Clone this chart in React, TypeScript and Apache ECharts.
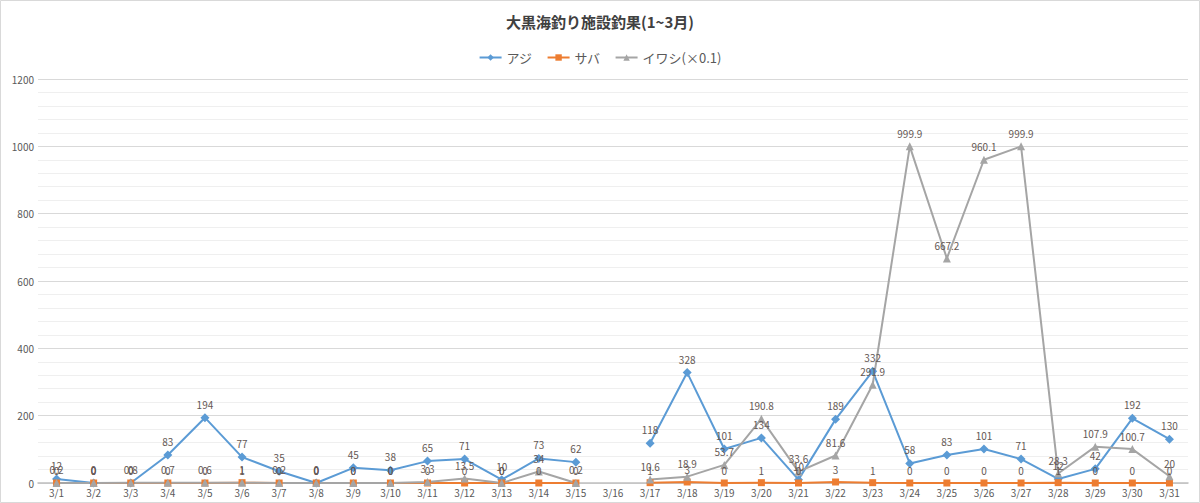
import { useEffect, useRef } from "react";
import * as echarts from "echarts";

const days = [
  "3/1", "3/2", "3/3", "3/4", "3/5", "3/6", "3/7", "3/8", "3/9", "3/10",
  "3/11", "3/12", "3/13", "3/14", "3/15", "3/16", "3/17", "3/18", "3/19", "3/20",
  "3/21", "3/22", "3/23", "3/24", "3/25", "3/26", "3/27", "3/28", "3/29", "3/30",
  "3/31",
];

// アジ
const aji = [
  12, 0, 0, 83, 194, 77, 35, 0, 45, 38,
  65, 71, 10, 73, 62, null, 118, 328, 101, 134,
  10, 189, 332, 58, 83, 101, 71, 12, 42, 192,
  130,
];

// サバ
const saba = [
  0, 0, 0, 0, 0, 1, 0, 0, 0, 0,
  0, 0, 0, 0, 0, null, 1, 3, 0, 1,
  0, 3, 1, 0, 0, 0, 0, 1, 0, 0,
  0,
];

// イワシ (x0.1)
const iwashi = [
  0.2, 0, 0.8, 0.7, 0.6, 1, 0.2, 0, 0, 0,
  3.3, 13.5, 0, 34, 0.2, null, 10.6, 18.9, 53.7, 190.8,
  33.6, 81.6, 291.9, 999.9, 667.2, 960.1, 999.9, 28.3, 107.9, 100.7,
  20,
];

const FONT = '"Noto Sans CJK JP", "Noto Sans", sans-serif';
const labelStyle = {
  show: true,
  position: "top" as const,
  distance: 4,
  color: "#645854",
  fontSize: 10,
  fontFamily: FONT,
};

export default function App() {
  const chartRef = useRef<HTMLDivElement>(null);

  useEffect(() => {
    document.body.style.margin = "0";
    const chart = echarts.init(chartRef.current, undefined, { renderer: "svg" });

    chart.setOption({
      animation: false,
      backgroundColor: "#ffffff",
      textStyle: { fontFamily: FONT },
      title: {
        text: "大黒海釣り施設釣果(1~3月)",
        left: "center",
        top: 9,
        textStyle: {
          fontSize: 15,
          fontWeight: "bold",
          color: "#404040",
          fontFamily: FONT,
        },
      },
      legend: {
        top: 46,
        left: "center",
        itemWidth: 22,
        itemHeight: 8,
        itemGap: 14,
        textStyle: { fontSize: 13, color: "#595959", fontFamily: FONT },
        data: ["アジ", "サバ", "イワシ(×0.1)"],
      },
      graphic: [
        {
          type: "rect",
          shape: { x: 0.5, y: 0.5, width: 1199, height: 502 },
          style: { fill: "none", stroke: "#d9d9d9", lineWidth: 1 },
          silent: true,
        },
      ],
      grid: { left: 38, right: 12, top: 79, bottom: 20 },
      xAxis: {
        type: "category",
        data: days,
        boundaryGap: true,
        axisLine: { lineStyle: { color: "#bfbfbf", width: 1.5 } },
        axisTick: { show: false },
        axisLabel: {
          color: "#595959",
          fontSize: 10,
          margin: 4,
          interval: 0,
          fontFamily: FONT,
        },
      },
      yAxis: {
        type: "value",
        min: 0,
        max: 1200,
        interval: 200,
        axisLine: { show: false },
        axisTick: { show: false },
        axisLabel: {
          color: "#595959",
          fontSize: 10,
          margin: 4,
          fontFamily: FONT,
          formatter: (v: number) => String(v),
        },
        splitLine: { lineStyle: { color: "#d9d9d9", width: 1 } },
        minorTick: { show: false, splitNumber: 5 },
        minorSplitLine: { show: true, lineStyle: { color: "#efefef", width: 1 } },
      },
      series: [
        {
          name: "アジ",
          type: "line",
          data: aji,
          symbol: "diamond",
          symbolSize: 9,
          itemStyle: { color: "#5b9bd5" },
          lineStyle: { width: 2, color: "#5b9bd5" },
          label: labelStyle,
        },
        {
          name: "サバ",
          type: "line",
          data: saba,
          symbol: "rect",
          symbolSize: 7,
          itemStyle: { color: "#ed7d31" },
          lineStyle: { width: 2, color: "#ed7d31" },
          label: labelStyle,
        },
        {
          name: "イワシ(×0.1)",
          type: "line",
          data: iwashi,
          symbol: "triangle",
          symbolSize: 8,
          itemStyle: { color: "#a5a5a5" },
          lineStyle: { width: 2, color: "#a5a5a5" },
          label: labelStyle,
        },
      ],
    });

    return () => {
      chart.dispose();
    };
  }, []);

  return <div ref={chartRef} style={{ width: "1200px", height: "503px" }} />;
}
